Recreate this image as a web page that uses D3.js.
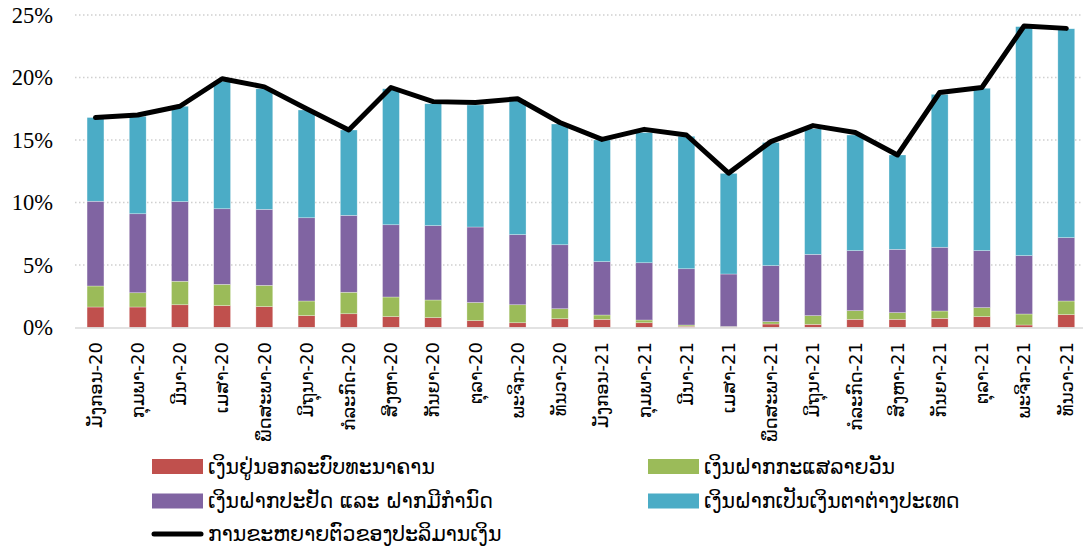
<!DOCTYPE html>
<html>
<head>
<meta charset="utf-8">
<script src="https://cdn.jsdelivr.net/npm/d3@7"></script>
<style>
  body { margin: 0; background: #fff; }
  svg { display: block; }
</style>
</head>
<body>
<svg id="chart" width="1083" height="548"></svg>
<script>
// months, Jan-20 .. Dec-21
var months = ["ມັງກອນ-20", "ກຸມພາ-20", "ມີນາ-20", "ເມສາ-20", "ພຶດສະພາ-20", "ມິຖຸນາ-20",
  "ກໍລະກົດ-20", "ສິງຫາ-20", "ກັນຍາ-20", "ຕຸລາ-20", "ພະຈິກ-20", "ທັນວາ-20",
  "ມັງກອນ-21", "ກຸມພາ-21", "ມີນາ-21", "ເມສາ-21", "ພຶດສະພາ-21", "ມິຖຸນາ-21",
  "ກໍລະກົດ-21", "ສິງຫາ-21", "ກັນຍາ-21", "ຕຸລາ-21", "ພະຈິກ-21", "ທັນວາ-21"];

// contributions to growth (%), one value per month
var currency = [1.64, 1.64, 1.82, 1.75, 1.67, 0.95, 1.10, 0.87, 0.79, 0.55, 0.38, 0.70,
  0.65, 0.38, 0.10, 0.03, 0.28, 0.25, 0.65, 0.65, 0.73, 0.87, 0.20, 1.03];
var demand = [1.68, 1.14, 1.88, 1.70, 1.70, 1.17, 1.72, 1.57, 1.41, 1.45, 1.44, 0.80,
  0.35, 0.22, 0.10, 0.05, 0.19, 0.70, 0.70, 0.54, 0.59, 0.72, 0.88, 1.09];
var savings = [6.78, 6.32, 6.37, 6.05, 6.08, 6.66, 6.15, 5.78, 5.95, 6.04, 5.61, 5.12,
  4.27, 4.58, 4.50, 4.20, 4.48, 4.90, 4.80, 5.06, 5.10, 4.56, 4.67, 5.07];
var foreign = [6.70, 7.80, 7.63, 10.20, 9.65, 8.62, 6.83, 10.88, 9.75, 9.76, 10.77, 9.66,
  9.73, 10.42, 10.60, 8.05, 9.85, 10.05, 9.25, 7.55, 12.23, 12.99, 18.32, 16.71];
// broad money growth (%)
var growth = [16.8, 17.0, 17.7, 19.9, 19.25, 17.5, 15.8, 19.2, 18.07, 18.0, 18.3, 16.4,
  15.05, 15.85, 15.4, 12.35, 14.87, 16.15, 15.6, 13.8, 18.8, 19.2, 24.12, 23.93];

var yTicks = [0, 5, 10, 15, 20, 25];

var seriesNames = ["ເງິນຢູ່ນອກລະບົບທະນາຄານ", "ເງິນຝາກກະແສລາຍວັນ",
  "ເງິນຝາກປະຢັດ ແລະ ຝາກມີກຳນົດ", "ເງິນຝາກເປັນເງິນຕາຕ່າງປະເທດ"];
var lineName = "ການຂະຫຍາຍຕົວຂອງປະລິມານເງິນ";
var colors = ["#C0504D", "#9BBB59", "#8064A2", "#4BACC6"];

var svg = d3.select("#chart");
var width = 1083;

// table for the stack
var keys = ["currency", "demand", "savings", "foreign"];
var table = months.map(function(m, i) {
  return {month: m, currency: currency[i], demand: demand[i], savings: savings[i], foreign: foreign[i], growth: growth[i]};
});

var x = d3.scaleBand()
  .domain(months)
  .range([74.4, 1087.4])
  .paddingInner(0.6)
  .paddingOuter(0.3);

var y = d3.scaleLinear()
  .domain([0, 25])
  .range([327.5, 15]);

var z = d3.scaleOrdinal().domain(keys).range(colors);

// grid lines (dotted)
svg.append("g")
  .selectAll("line")
  .data(yTicks.filter(function(d) { return d > 0; }))
  .enter().append("line")
  .attr("x1", 75)
  .attr("x2", width)
  .attr("y1", function(d) { return y(d); })
  .attr("y2", function(d) { return y(d); })
  .attr("stroke", "#d0d0d0")
  .attr("stroke-width", 1.3)
  .attr("stroke-dasharray", "1.5,2.5");

// y labels
svg.append("g")
  .selectAll("text")
  .data(yTicks)
  .enter().append("text")
  .attr("x", 53)
  .attr("y", function(d) { return y(d); })
  .attr("dy", "0.35em")
  .attr("text-anchor", "end")
  .attr("font-family", "'Liberation Serif', 'Times New Roman', serif")
  .attr("font-size", 22.5)
  .attr("fill", "#000")
  .text(function(d) { return d + "%"; });

// stacked bars
var stack = d3.stack().keys(keys).offset(d3.stackOffsetNone);
svg.append("g")
  .selectAll("g")
  .data(stack(table))
  .enter().append("g")
  .attr("fill", function(d) { return z(d.key); })
  .selectAll("rect")
  .data(function(d) { return d; })
  .enter().append("rect")
  .attr("x", function(d) { return x(d.data.month); })
  .attr("y", function(d) { return y(d[1]); })
  .attr("width", x.bandwidth())
  .attr("height", function(d) { return y(d[0]) - y(d[1]); })
  .attr("stroke", "#fff")
  .attr("stroke-opacity", 0.5)
  .attr("stroke-width", 0.6);

// baseline
svg.append("line")
  .attr("x1", 75)
  .attr("x2", width)
  .attr("y1", y(0) + 0.5)
  .attr("y2", y(0) + 0.5)
  .attr("stroke", "#d9d9d9")
  .attr("stroke-width", 1.5);

// growth line
var line = d3.line()
  .x(function(d) { return x(d.month) + x.bandwidth() / 2; })
  .y(function(d) { return y(d.growth); });

svg.append("path")
  .datum(table)
  .attr("d", line)
  .attr("fill", "none")
  .attr("stroke", "#000")
  .attr("stroke-width", 5)
  .attr("stroke-linejoin", "round")
  .attr("stroke-linecap", "round");

// x labels, rotated
svg.append("g")
  .selectAll("text")
  .data(months)
  .enter().append("text")
  .attr("transform", function(d) { return "translate(" + (x(d) + x.bandwidth() / 2) + ",342) rotate(-90)"; })
  .attr("dy", "0.35em")
  .attr("text-anchor", "end")
  .attr("font-family", "'DejaVu Sans', sans-serif")
  .attr("font-size", 18)
  .attr("fill", "#000")
  .text(function(d) { return d; });

// legend
var legendPos = [[152, 466.5], [648, 466.5], [152, 501], [648, 501]];
var legend = svg.append("g")
  .selectAll("g")
  .data(seriesNames)
  .enter().append("g")
  .attr("transform", function(d, i) { return "translate(" + legendPos[i][0] + "," + legendPos[i][1] + ")"; });

legend.append("rect")
  .attr("x", 0)
  .attr("y", -7.5)
  .attr("width", 51)
  .attr("height", 15)
  .attr("fill", function(d, i) { return colors[i]; });

legend.append("text")
  .attr("x", 56)
  .attr("dy", "0.35em")
  .attr("font-family", "'DejaVu Sans', sans-serif")
  .attr("font-size", 20.5)
  .attr("fill", "#000")
  .text(function(d) { return d; });

var lineLegend = svg.append("g").attr("transform", "translate(152,534)");
lineLegend.append("line")
  .attr("x1", 2)
  .attr("x2", 49)
  .attr("stroke", "#000")
  .attr("stroke-width", 5)
  .attr("stroke-linecap", "round");
lineLegend.append("text")
  .attr("x", 56)
  .attr("dy", "0.35em")
  .attr("font-family", "'DejaVu Sans', sans-serif")
  .attr("font-size", 20.5)
  .attr("fill", "#000")
  .text(lineName);
</script>
</body>
</html>
